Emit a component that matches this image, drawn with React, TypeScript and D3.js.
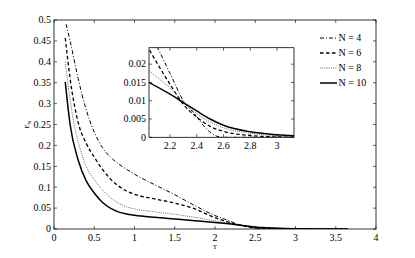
import React from "react";
import * as d3 from "d3";

const T4 = [0.15, 0.2, 0.3, 0.4, 0.5, 0.6, 0.7, 0.8, 0.9, 1.0, 1.25, 1.5, 1.75, 2.0, 2.1, 2.2, 2.3, 2.4, 2.45, 2.5, 2.55, 2.6, 3.0, 3.65];
const E4 = [0.49, 0.45, 0.36, 0.285, 0.232, 0.195, 0.172, 0.156, 0.143, 0.131, 0.106, 0.082, 0.056, 0.032, 0.025, 0.0175, 0.01, 0.0057, 0.0032, 0.0014, 0.0003, 0, 0, 0];
const T6 = [0.14, 0.2, 0.3, 0.4, 0.5, 0.6, 0.7, 0.8, 0.9, 1.0, 1.25, 1.5, 1.75, 2.0, 2.1, 2.2, 2.3, 2.4, 2.5, 2.6, 2.8, 3.0, 3.3, 3.65];
const E6 = [0.457, 0.36, 0.255, 0.205, 0.172, 0.143, 0.12, 0.103, 0.091, 0.083, 0.072, 0.062, 0.048, 0.027, 0.0205, 0.0145, 0.009, 0.0055, 0.003, 0.0016, 0.0005, 0.0001, 0, 0];
const T8 = [0.14, 0.2, 0.25, 0.3, 0.4, 0.5, 0.6, 0.7, 0.8, 0.9, 1.0, 1.25, 1.5, 1.75, 2.0, 2.1, 2.2, 2.3, 2.4, 2.5, 2.6, 2.8, 3.0, 3.3, 3.65];
const E8 = [0.4, 0.31, 0.25, 0.21, 0.15, 0.118, 0.094, 0.075, 0.062, 0.053, 0.048, 0.041, 0.035, 0.028, 0.0195, 0.0165, 0.0135, 0.0098, 0.0065, 0.0042, 0.0026, 0.0011, 0.0004, 0.0001, 0];
const T10 = [0.14, 0.2, 0.3, 0.4, 0.5, 0.6, 0.7, 0.8, 0.9, 1.0, 1.25, 1.5, 1.75, 2.0, 2.2, 2.3, 2.4, 2.5, 2.6, 2.8, 3.0, 3.3, 3.65];
const E10 = [0.352, 0.25, 0.165, 0.115, 0.086, 0.064, 0.05, 0.041, 0.036, 0.033, 0.028, 0.024, 0.02, 0.0158, 0.0118, 0.0095, 0.0072, 0.005, 0.0033, 0.0015, 0.0007, 0.0002, 0];

const seriesNames = ["N = 4", "N = 6", "N = 8", "N = 10"];
const seriesT = [T4, T6, T8, T10];
const seriesE = [E4, E6, E8, E10];

const xTicks = [0, 0.5, 1, 1.5, 2, 2.5, 3, 3.5, 4];
const yTicks = [0, 0.05, 0.1, 0.15, 0.2, 0.25, 0.3, 0.35, 0.4, 0.45, 0.5];
const insetXTicks = [2.2, 2.4, 2.6, 2.8, 3];
const insetYTicks = [0, 0.005, 0.01, 0.015, 0.02];

const styles = [
  { dash: "4,2,1,2", width: 1.0, color: "#000" },
  { dash: "3.5,2.5", width: 1.3, color: "#000" },
  { dash: "1,1.2", width: 0.9, color: "#555" },
  { dash: "", width: 1.5, color: "#000" },
];

const FONT = "Liberation Serif";

export default function App() {
  const W = 415, H = 258;
  const x = d3.scaleLinear().domain([0, 4]).range([54, 376]);
  const y = d3.scaleLinear().domain([0, 0.5]).range([229, 20]);
  const ix = d3.scaleLinear().domain([2.043, 3.127]).range([149, 294]);
  const iy = d3.scaleLinear().domain([0, 0.0245]).range([137.3, 47.7]);
  const fmt = (v: number) => String(+v.toFixed(4));

  const mkLine = (sx: any, sy: any) =>
    d3.line<[number, number]>().x(d => sx(d[0])).y(d => sy(d[1])).curve(d3.curveMonotoneX);

  const pts = (i: number) => seriesT[i].map((t, k) => [t, seriesE[i][k]] as [number, number]);
  const mainLine = mkLine(x, y);
  const insetLine = mkLine(ix, iy);
  const tk = 3;

  const [x0, x1] = x.range();
  const [y0, y1] = y.range();
  const [ix0, ix1] = ix.range();
  const [iy0, iy1] = iy.range();

  return (
    <svg width={W} height={H} style={{ position: "absolute", left: 0, top: 0, background: "#fff" }}>
      <defs>
        <clipPath id="mainClip"><rect x={x0} y={y1} width={x1 - x0} height={y0 - y1} /></clipPath>
        <clipPath id="insetClip"><rect x={ix0} y={iy1} width={ix1 - ix0} height={iy0 - iy1} /></clipPath>
      </defs>
      <rect width={W} height={H} fill="#fff" />
      <g clipPath="url(#mainClip)">
        {seriesNames.map((n, i) => (
          <path key={n} d={mainLine(pts(i)) || ""} fill="none" stroke={styles[i].color}
            strokeWidth={styles[i].width} strokeDasharray={styles[i].dash} />
        ))}
      </g>
      <rect x={x0} y={y1} width={x1 - x0} height={y0 - y1} fill="none" stroke="#000" strokeWidth={0.8} />
      {xTicks.map(t => (
        <g key={"xt" + t}>
          <line x1={x(t)} x2={x(t)} y1={y0} y2={y0 - tk} stroke="#000" strokeWidth={0.6} />
          <line x1={x(t)} x2={x(t)} y1={y1} y2={y1 + tk} stroke="#000" strokeWidth={0.6} />
          <text x={x(t)} y={y0 + 12} textAnchor="middle" fontSize={10} fontFamily={FONT}>{fmt(t)}</text>
        </g>
      ))}
      {yTicks.map(t => (
        <g key={"yt" + t}>
          <line x1={x0} x2={x0 + tk} y1={y(t)} y2={y(t)} stroke="#000" strokeWidth={0.6} />
          <line x1={x1} x2={x1 - tk} y1={y(t)} y2={y(t)} stroke="#000" strokeWidth={0.6} />
          <text x={x0 - 3} y={y(t) + 3.3} textAnchor="end" fontSize={10} fontFamily={FONT}>{fmt(t)}</text>
        </g>
      ))}
      <text x={x(2)} y={249} textAnchor="middle" fontSize={7} fontFamily={FONT}>T</text>
      <text transform={`translate(29,${y(0.25)}) rotate(-90)`} textAnchor="middle" fontSize={7} fontFamily={FONT}>
        E<tspan fontSize={5} dy={1.5}>N</tspan>
      </text>

      <rect x={ix0} y={iy1} width={ix1 - ix0} height={iy0 - iy1} fill="#fff" />
      <g clipPath="url(#insetClip)">
        {seriesNames.map((n, i) => (
          <path key={"i" + n} d={insetLine(pts(i)) || ""} fill="none" stroke={styles[i].color}
            strokeWidth={styles[i].width} strokeDasharray={styles[i].dash} />
        ))}
      </g>
      <rect x={ix0} y={iy1} width={ix1 - ix0} height={iy0 - iy1} fill="none" stroke="#000" strokeWidth={0.8} />
      {insetXTicks.map(t => (
        <g key={"ixt" + t}>
          <line x1={ix(t)} x2={ix(t)} y1={iy0} y2={iy0 - tk} stroke="#000" strokeWidth={0.6} />
          <line x1={ix(t)} x2={ix(t)} y1={iy1} y2={iy1 + tk} stroke="#000" strokeWidth={0.6} />
          <text x={ix(t)} y={iy0 + 12} textAnchor="middle" fontSize={10} fontFamily={FONT}>{fmt(t)}</text>
        </g>
      ))}
      {insetYTicks.map(t => (
        <g key={"iyt" + t}>
          <line x1={ix0} x2={ix0 + tk} y1={iy(t)} y2={iy(t)} stroke="#000" strokeWidth={0.6} />
          <line x1={ix1} x2={ix1 - tk} y1={iy(t)} y2={iy(t)} stroke="#000" strokeWidth={0.6} />
          <text x={ix0 - 3} y={iy(t) + 3.3} textAnchor="end" fontSize={10} fontFamily={FONT}>{fmt(t)}</text>
        </g>
      ))}

      {seriesNames.map((n, i) => {
        const ly = 38 + i * 15;
        return (
          <g key={"lg" + n}>
            <line x1={320} x2={337} y1={ly} y2={ly} stroke={styles[i].color}
              strokeWidth={styles[i].width} strokeDasharray={styles[i].dash} />
            <text x={338.5} y={ly + 3.3} fontSize={10} fontFamily={FONT}>{n}</text>
          </g>
        );
      })}
    </svg>
  );
}
